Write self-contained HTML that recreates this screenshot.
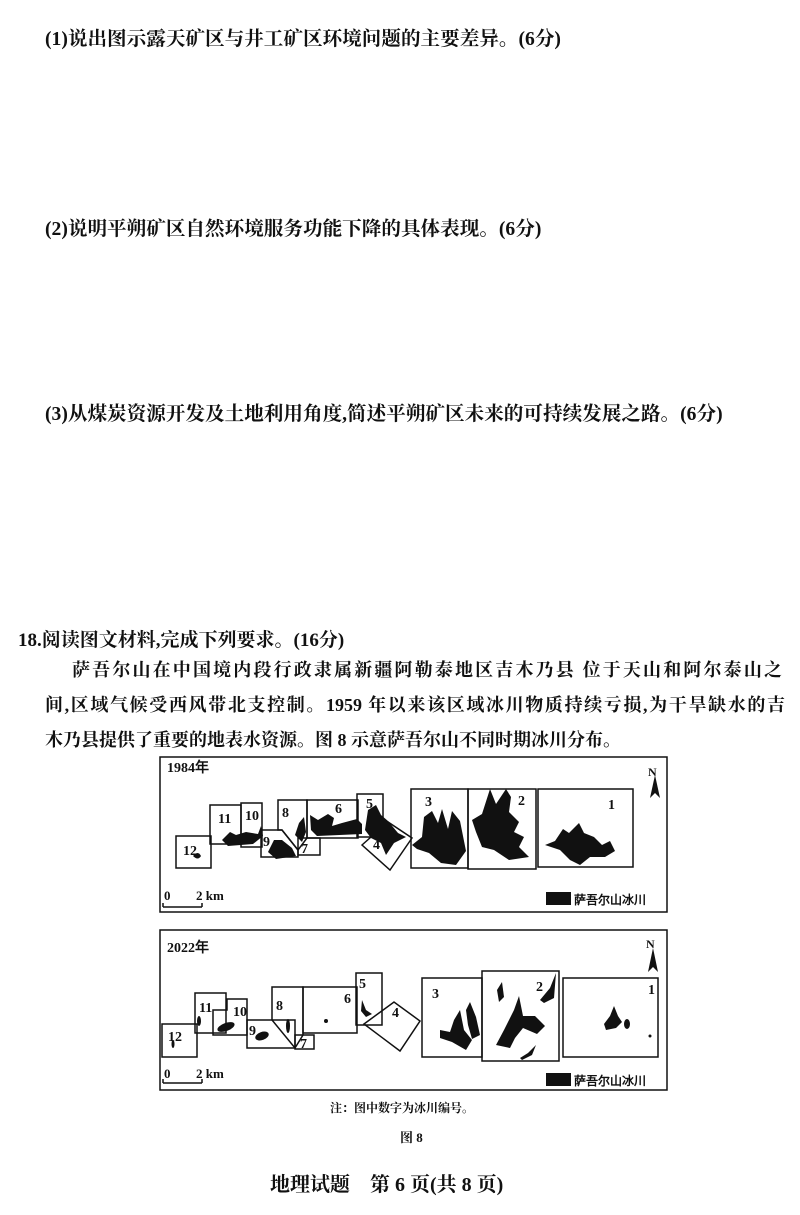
<!DOCTYPE html>
<html><head><meta charset="utf-8"><style>
html,body{margin:0;padding:0;background:#fff;}
body{width:800px;height:1215px;position:relative;overflow:hidden;font-family:"Liberation Serif","Noto Serif CJK SC","Noto Sans CJK SC",serif;color:#111;}
.t{position:absolute;white-space:nowrap;font-weight:bold;}
.q{font-size:19.6px;left:45px;}
.j{text-align:justify;text-align-last:justify;white-space:normal;font-size:18px;}
</style></head><body>
<div class="t q" style="top:22px;">(1)说出图示露天矿区与井工矿区环境问题的主要差异。(6分)</div>
<div class="t q" style="top:212px;">(2)说明平朔矿区自然环境服务功能下降的具体表现。(6分)</div>
<div class="t q" style="top:397px;">(3)从煤炭资源开发及土地利用角度,简述平朔矿区未来的可持续发展之路。(6分)</div>
<div class="t" style="top:625px;left:18px;font-size:19px;">18.阅读图文材料,完成下列要求。(16分)</div>
<div class="t j" style="top:656px;left:72px;width:710px;">萨吾尔山在中国境内段行政隶属新疆阿勒泰地区吉木乃县 位于天山和阿尔泰山之</div>
<div class="t j" style="top:691px;left:45px;width:740px;">间,区域气候受西风带北支控制。1959 年以来该区域冰川物质持续亏损,为干旱缺水的吉</div>
<div class="t" style="top:726px;left:45px;font-size:18px;">木乃县提供了重要的地表水资源。图 8 示意萨吾尔山不同时期冰川分布。</div>

<svg style="position:absolute;left:0;top:0" width="800" height="1215" viewBox="0 0 800 1215">
<g fill="none" stroke="#111" stroke-width="1.5">
<rect x="160" y="757" width="507" height="155"/>
<rect x="176" y="836" width="35" height="32"/>
<rect x="210" y="805" width="31" height="39"/>
<rect x="241" y="803" width="21" height="44"/>
<polygon points="261,830 282,830 298,850 298,857 261,857"/>
<polygon points="278,800 307,800 307,838 298,850 282,830 278,830"/>
<rect x="298" y="838" width="22" height="17"/>
<rect x="307" y="800" width="51" height="38"/>
<rect x="357" y="794" width="26" height="43"/>
<polygon points="362,845 388,822 412,838 390,870"/>
<rect x="411" y="789" width="57" height="79"/>
<rect x="468" y="789" width="68" height="80"/>
<rect x="538" y="789" width="95" height="78"/>
<rect x="160" y="930" width="507" height="160"/>
<rect x="162" y="1024" width="35" height="33"/>
<rect x="195" y="993" width="31" height="40"/>
<polygon points="213,1035 213,1010 227,1010 227,999 247,999 247,1035"/>
<rect x="247" y="1020" width="48" height="28"/>
<polygon points="272,987 303,987 303,1035 295,1048 272,1020"/>
<rect x="295" y="1035" width="19" height="14"/>
<rect x="303" y="987" width="54" height="46"/>
<rect x="356" y="973" width="26" height="52"/>
<polygon points="364,1024 394,1002 420,1021 400,1051"/>
<rect x="422" y="978" width="60" height="79"/>
<rect x="482" y="971" width="77" height="90"/>
<rect x="563" y="978" width="95" height="79"/>
<line x1="163" y1="907" x2="202" y2="907"/><line x1="163" y1="903" x2="163" y2="907"/><line x1="202" y1="903" x2="202" y2="907"/>
<line x1="163" y1="1083" x2="202" y2="1083"/><line x1="163" y1="1079" x2="163" y2="1083"/><line x1="202" y1="1079" x2="202" y2="1083"/>
</g>
<g fill="#111">
<rect x="546" y="892" width="25" height="13"/>
<rect x="546" y="1073" width="25" height="13"/>
<polygon points="650,798 655,775 660,798 655,793"/>
<polygon points="648,972 653,948 658,972 653,967"/>
<!-- 1984 glaciers -->
<path d="M193,856 q5,-6 8,0 q-3,5 -8,0z"/>
<path d="M222,840 l8,-8 l6,3 l10,-3 l12,2 l3,-8 l2,10 l-10,8 l-25,2z"/>
<path d="M268,852 l6,-12 l8,0 l10,8 l4,8 l-20,3z"/>
<path d="M295,835 l4,-12 l5,-6 l2,15 l-4,10z"/>
<path d="M310,815 l8,5 l10,-6 l6,4 l-2,8 l10,-3 l15,-4 l5,5 l0,10 l-45,2 l-6,-6z"/>
<path d="M365,830 l3,-20 l8,-5 l5,10 l7,6 l10,12 l8,4 l-12,6 l-8,12 l-5,-12 l-10,-5z"/>
<path d="M412,845 l10,-8 l2,-20 l8,-6 l6,12 l4,-14 l6,20 l4,-18 l8,10 l6,30 l-10,14 l-15,-2 l-12,-10 l-12,-4z"/>
<path d="M472,820 l10,-6 l8,-25 l6,15 l10,-15 l5,8 l-2,15 l10,10 l-5,10 l10,5 l-5,10 l10,10 l-20,3 l-15,-10 l-12,-3 l-6,-15z"/>
<path d="M545,845 l10,-4 l8,-12 l6,4 l10,-10 l5,10 l10,4 l8,8 l8,-4 l5,10 l-10,6 l-15,0 l-10,8 l-10,-5 l-10,-10z"/>
<!-- 2022 glaciers -->
<ellipse cx="173" cy="1044" rx="1.5" ry="4"/>
<ellipse cx="199" cy="1021" rx="2" ry="5"/>
<ellipse cx="226" cy="1027" rx="9" ry="4" transform="rotate(-20 226 1027)"/>
<ellipse cx="262" cy="1036" rx="7" ry="4" transform="rotate(-20 262 1036)"/>
<ellipse cx="288" cy="1026" rx="2" ry="7"/>
<ellipse cx="326" cy="1021" rx="2" ry="2"/>
<path d="M362,1000 l4,10 l6,4 l-6,3 l-5,-6z"/>
<path d="M440,1030 l10,2 l4,-12 l6,-10 l4,20 l8,10 l-6,10 l-14,-8 l-12,-4z"/>
<path d="M466,1010 l4,-8 l6,15 l4,18 l-8,4 l-4,-14z"/>
<path d="M496,1045 l8,-15 l10,-20 l5,-14 l4,20 l12,0 l10,10 l-8,8 l-14,-6 l-8,10 l-5,10z"/>
<path d="M497,990 l5,-8 l2,15 l-5,5z"/>
<path d="M540,1000 l10,-12 l6,-15 l-2,25 l-10,5z"/>
<path d="M520,1058 l8,-5 l8,-8 l-4,10 l-10,5z"/>
<path d="M604,1024 l6,-8 l4,-10 l4,10 l4,6 l-6,6 l-10,2z"/>
<path d="M589,1012 l5,6"/>
<ellipse cx="627" cy="1024" rx="3" ry="5"/>
<ellipse cx="650" cy="1036" rx="1.5" ry="1.5"/>
</g>
<g font-family="Liberation Serif,serif" font-size="14" font-weight="bold" fill="#111">
<text x="167" y="772">1984年</text>
<text x="183" y="855">12</text><text x="218" y="823">11</text><text x="245" y="820">10</text>
<text x="263" y="846">9</text><text x="282" y="817">8</text><text x="301" y="853">7</text>
<text x="335" y="813">6</text><text x="366" y="808">5</text><text x="373" y="849">4</text>
<text x="425" y="806">3</text><text x="518" y="805">2</text><text x="608" y="809">1</text>
<text x="648" y="776" font-size="12">N</text>
<text x="164" y="900" font-size="13">0</text><text x="196" y="900" font-size="13">2 km</text>
<text x="574" y="904" font-size="12">萨吾尔山冰川</text>
<text x="167" y="952">2022年</text>
<text x="168" y="1041">12</text><text x="199" y="1012">11</text><text x="233" y="1016">10</text>
<text x="249" y="1035">9</text><text x="276" y="1010">8</text><text x="300" y="1048">7</text>
<text x="344" y="1003">6</text><text x="359" y="988">5</text><text x="392" y="1017">4</text>
<text x="432" y="998">3</text><text x="536" y="991">2</text><text x="648" y="994">1</text>
<text x="646" y="948" font-size="12">N</text>
<text x="164" y="1078" font-size="13">0</text><text x="196" y="1078" font-size="13">2 km</text>
<text x="574" y="1085" font-size="12">萨吾尔山冰川</text>
</g>
</svg>
<div class="t" style="top:1099px;left:330px;font-size:12px;">注：图中数字为冰川编号。</div>
<div class="t" style="top:1127px;left:400px;font-size:13px;">图 8</div>
<div class="t" style="top:1168px;left:270px;font-size:20px;">地理试题　第 6 页(共 8 页)</div>
</body></html>
